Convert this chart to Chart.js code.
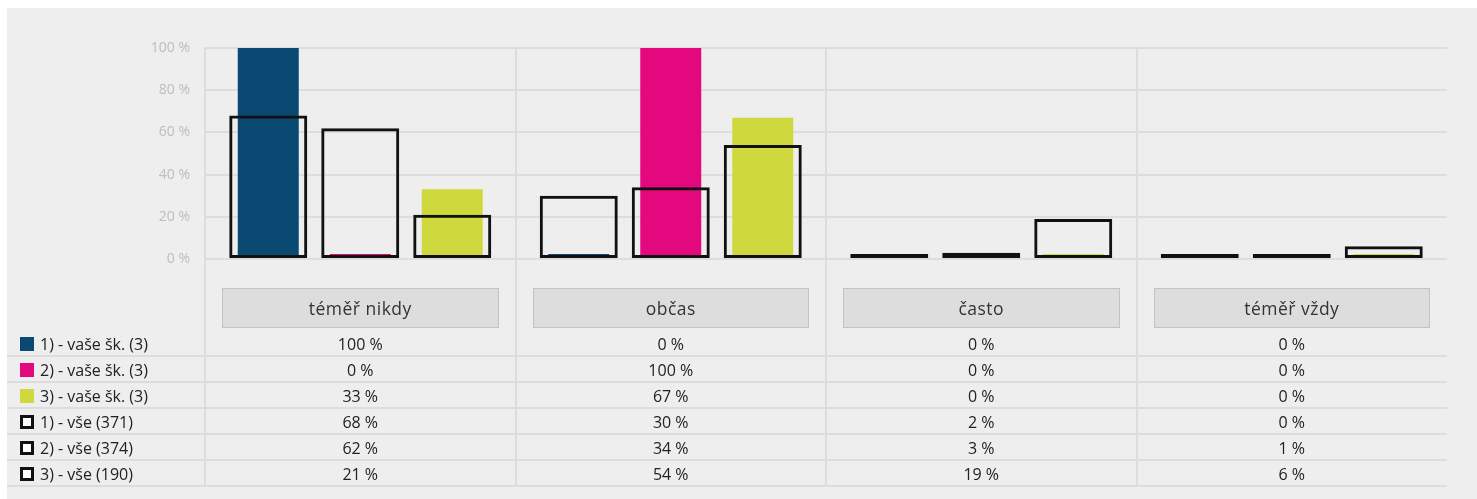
<!DOCTYPE html>
<html>
<head>
<meta charset="utf-8">
<script src="https://cdn.jsdelivr.net/npm/chart.js@4"></script>
<style>
  html, body { margin:0; padding:0; background:#ffffff; width:1477px; height:499px; overflow:hidden; font-family:"Open Sans", "Noto Sans", sans-serif; }
  #panel { position:absolute; left:7px; top:8px; right:0; bottom:0; background:#eeeeee; z-index:0; }
  #lines { position:absolute; left:0; top:0; width:1477px; height:499px; z-index:1; }
  #c { position:absolute; left:0; top:0; z-index:2; }
  #overlay { position:absolute; left:0; top:0; width:1477px; height:499px; z-index:3; }
  .line { position:absolute; background:#dddddd; }
  .catbox { position:absolute; box-sizing:border-box; background:#dddddd; border:1px solid #c3c3c3; color:#333; font-size:17.5px; letter-spacing:0.5px; text-align:center; }
  .cell { position:absolute; color:#222; font-size:16px; text-align:center; white-space:nowrap; }
  .leg { position:absolute; color:#222; font-size:16px; white-space:nowrap; }
  .mark { position:absolute; box-sizing:border-box; width:14px; height:14px; }
</style>
</head>
<body>
<div id="panel"></div>
<div id="lines"></div>
<canvas id="c" width="1477" height="499"></canvas>
<div id="overlay"></div>
<script>
// ---- data ----
const categories = ['téměř nikdy', 'občas', 'často', 'téměř vždy'];
const schoolLabels = ['1) - vaše šk. (3)', '2) - vaše šk. (3)', '3) - vaše šk. (3)'];
const allLabels = ['1) - vše (371)', '2) - vše (374)', '3) - vše (190)'];
const school1 = [100, 0, 0, 0];
const school2 = [0, 100, 0, 0];
const school3 = [33, 67, 0, 0];
const all1 = [68, 30, 2, 0];
const all2 = [62, 34, 3, 1];
const all3 = [21, 54, 19, 6];
const yTicks = [0, 20, 40, 60, 80, 100];
const schoolColors = ['#0a4a72', '#e4087f', '#cfd83c'];
const outlineColor = '#111111';

const schoolSeries = [school1, school2, school3];
const allSeries = [all1, all2, all3];

const CAT_PCT = 276 / 310.5;
const filledDatasets = schoolSeries.map((d, i) => ({
  label: schoolLabels[i],
  data: d,
  stack: 'g' + i,
  backgroundColor: schoolColors[i],
  borderWidth: 0,
  barPercentage: 61 / 92,
  categoryPercentage: CAT_PCT,
  minBarLength: 5,
  order: 2
}));
const outlineDatasets = allSeries.map((d, i) => ({
  label: allLabels[i],
  data: d,
  stack: 'g' + i,
  backgroundColor: 'rgba(0,0,0,0)',
  borderColor: outlineColor,
  borderWidth: 3,
  borderSkipped: false,
  barPercentage: 78 / 92,
  categoryPercentage: CAT_PCT,
  minBarLength: 5,
  order: 1
}));

const chart = new Chart(document.getElementById('c'), {
  type: 'bar',
  data: { labels: categories, datasets: [...filledDatasets, ...outlineDatasets] },
  options: {
    responsive: false,
    animation: false,
    events: [],
    layout: { padding: { left: 0, top: 48, right: 30, bottom: 240 } },
    plugins: { legend: { display: false }, tooltip: { enabled: false } },
    scales: {
      x: { type: 'category', display: false, offset: true },
      y: {
        stacked: false,
        min: 0, max: 100,
        afterFit: (s) => { s.width = 205; },
        afterBuildTicks: (s) => { s.ticks = yTicks.map(v => ({ value: v })); },
        ticks: {
          padding: 15,
          color: '#bdbdbd',
          font: { family: '"Open Sans", sans-serif', size: 14 },
          callback: (v) => v + ' %'
        },
        grid: { color: '#dddddd', lineWidth: 2, drawTicks: false },
        border: { display: false }
      }
    }
  }
});

// ---- table / category boxes, positioned from the chart's own scales ----
const xs = chart.scales.x;
const area = chart.chartArea;
const colW = (xs.right - xs.left) / categories.length;
const colLeft = categories.map((c, i) => xs.getPixelForValue(i) - colW / 2);
const linesEl = document.getElementById('lines');
const ov = document.getElementById('overlay');

const rowTop = 330, rowH = 26, nRows = 6;
const tableBottom = rowTop + nRows * rowH;

function addLine(x, y, w, h) {
  const d = document.createElement('div');
  d.className = 'line';
  d.style.left = x + 'px'; d.style.top = y + 'px';
  d.style.width = w + 'px'; d.style.height = h + 'px';
  linesEl.appendChild(d);
}
// column separators
colLeft.forEach(x => addLine(x - 1, area.top - 1, 2, tableBottom - area.top + 2));
// row separators
for (let r = 1; r <= nRows; r++) addLine(7, rowTop + r * rowH - 1, area.right - 7, 2);

// category boxes
categories.forEach((c, i) => {
  const b = document.createElement('div');
  b.className = 'catbox';
  b.style.left = (colLeft[i] + 17) + 'px';
  b.style.width = (colW - 34) + 'px';
  b.style.top = '288px';
  b.style.height = '40px';
  b.style.lineHeight = '38px';
  b.textContent = c;
  ov.appendChild(b);
});

// rows
const rowLabels = [...schoolLabels, ...allLabels];
const rowData = [...schoolSeries, ...allSeries];
rowLabels.forEach((lab, r) => {
  const top = rowTop + r * rowH;
  const m = document.createElement('div');
  m.className = 'mark';
  m.style.left = '20px';
  m.style.top = (top + 7) + 'px';
  if (r < 3) { m.style.background = schoolColors[r]; }
  else { m.style.background = '#ffffff'; m.style.border = '3px solid ' + outlineColor; }
  ov.appendChild(m);
  const l = document.createElement('div');
  l.className = 'leg';
  l.style.left = '40px';
  l.style.top = (top + 1) + 'px';
  l.style.lineHeight = rowH + 'px';
  l.textContent = lab;
  ov.appendChild(l);
  rowData[r].forEach((v, i) => {
    const cdiv = document.createElement('div');
    cdiv.className = 'cell';
    cdiv.style.left = colLeft[i] + 'px';
    cdiv.style.width = colW + 'px';
    cdiv.style.top = (top + 1) + 'px';
    cdiv.style.lineHeight = rowH + 'px';
    cdiv.textContent = v + ' %';
    ov.appendChild(cdiv);
  });
});
</script>
</body>
</html>
